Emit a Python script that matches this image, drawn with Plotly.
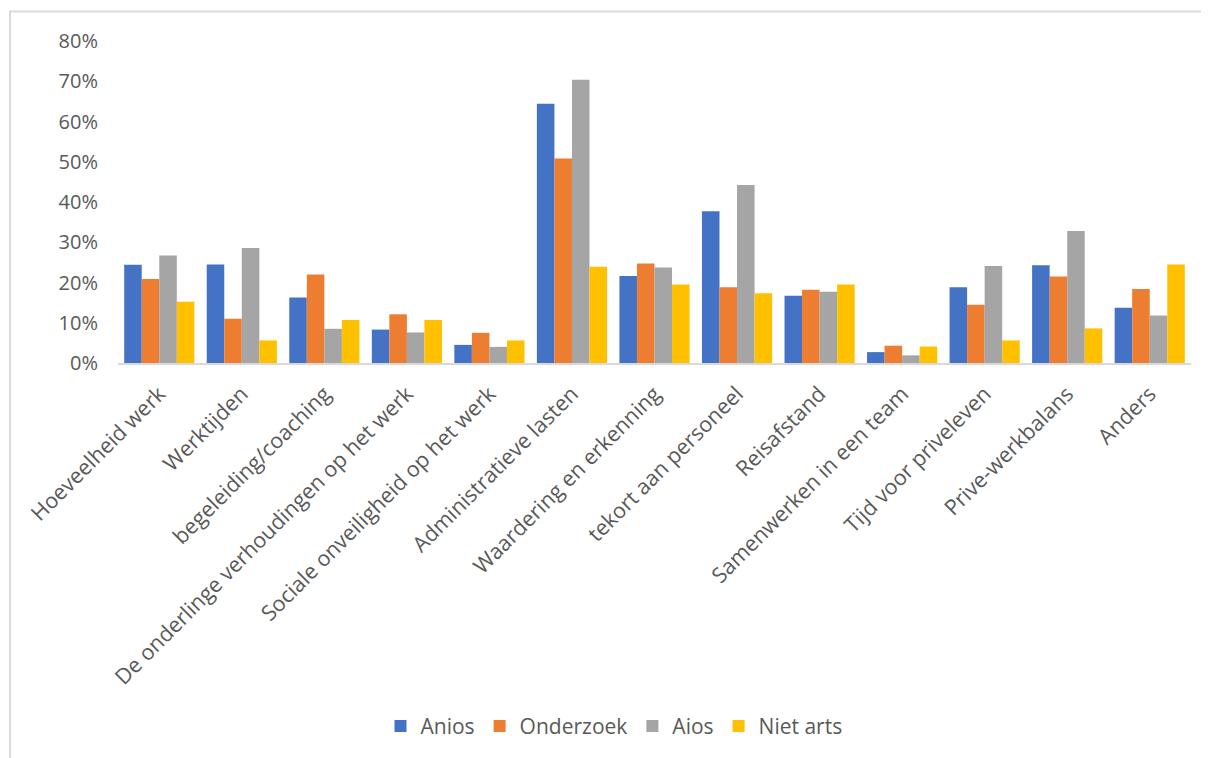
import plotly.graph_objects as go

categories = [
    "Hoeveelheid werk", "Werktijden", "begeleiding/coaching",
    "De onderlinge verhoudingen op het werk", "Sociale onveiligheid op het werk",
    "Administratieve lasten", "Waardering en erkenning", "tekort aan personeel",
    "Reisafstand", "Samenwerken in een team", "Tijd voor priveleven",
    "Prive-werkbalans", "Anders",
]
anios = [0.244, 0.245, 0.163, 0.083, 0.045, 0.644, 0.216, 0.377, 0.167, 0.027, 0.188, 0.243, 0.137]
onderzoek = [0.209, 0.110, 0.220, 0.121, 0.075, 0.508, 0.247, 0.188, 0.182, 0.043, 0.145, 0.215, 0.184]
aios = [0.267, 0.286, 0.085, 0.076, 0.040, 0.704, 0.237, 0.442, 0.177, 0.019, 0.241, 0.328, 0.118]
niet_arts = [0.152, 0.056, 0.107, 0.107, 0.056, 0.239, 0.195, 0.173, 0.195, 0.041, 0.056, 0.086, 0.245]

series_names = ["Anios", "Onderzoek", "Aios", "Niet arts"]
series_values = [anios, onderzoek, aios, niet_arts]
colors = ["#4472C4", "#ED7D31", "#A5A5A5", "#FFC000"]
y_ticks = [0, 0.1, 0.2, 0.3, 0.4, 0.5, 0.6, 0.7, 0.8]
y_tick_labels = ["0%", "10%", "20%", "30%", "40%", "50%", "60%", "70%", "80%"]

FONT = "Open Sans"
TXT = "#595959"

fig = go.Figure()
for name, vals, col in zip(series_names, series_values, colors):
    fig.add_trace(go.Bar(x=categories, y=vals, name=name,
                         marker=dict(color=col, line=dict(width=0))))

# page body has an 8px offset; work in screen coordinates and shift
OFF = 8
W, H = 1209 - OFF, 758 - OFF
L, R, T, B = 118 - OFF, 18, 40.5 - OFF, 758 - 363
plot_w = W - L - R
plot_h = H - T - B

def px_x(x):
    return (x - OFF - L) / plot_w

def px_y(y):
    return (H - B - (y - OFF)) / plot_h

fig.update_layout(
    width=W, height=H,
    margin=dict(l=L, r=R, t=T, b=B, autoexpand=False),
    paper_bgcolor="white", plot_bgcolor="white",
    barmode="group", bargap=0.15, bargroupgap=0,
    font=dict(family=FONT, color=TXT, size=20),
    showlegend=True,
    legend=dict(orientation="h", x=px_x(614), xanchor="center",
                y=px_y(727), yanchor="middle",
                font=dict(family=FONT, size=21, color=TXT),
                itemwidth=30, tracegroupgap=0),
    shapes=[dict(type="rect", xref="paper", yref="paper",
                 x0=px_x(10), x1=px_x(1240), y0=px_y(800), y1=px_y(11),
                 line=dict(color="#D9D9D9", width=2), fillcolor="rgba(0,0,0,0)",
                 layer="below")],
)
fig.update_xaxes(showline=True, linecolor="#D9D9D9", linewidth=1.5,
                 showgrid=False, ticks="", tickangle=-45,
                 tickfont=dict(family=FONT, size=21.5, color=TXT),
                 ticklabelstandoff=8)
fig.update_yaxes(range=[0, 0.8], tickvals=y_ticks, ticktext=y_tick_labels,
                 showgrid=False, zeroline=False, showline=False, ticks="",
                 tickfont=dict(family=FONT, size=20, color=TXT),
                 ticklabelstandoff=19)

fig.write_html("out.html")
